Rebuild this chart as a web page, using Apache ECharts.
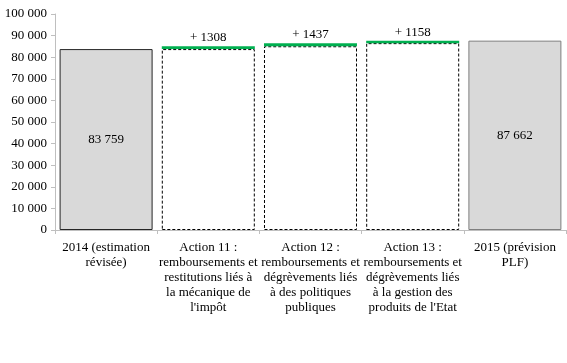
<!DOCTYPE html>
<html>
<head>
<meta charset="utf-8">
<script src="https://cdn.jsdelivr.net/npm/echarts@6/dist/echarts.min.js"></script>
<style>html,body{margin:0;padding:0;background:#fff}#c{width:567px;height:363px}</style>
</head>
<body>
<div id="c"></div>
<script>
var categories = [
  "2014 (estimation\nrévisée)",
  "Action 11 :\nremboursements et\nrestitutions liés à\nla mécanique de\nl'impôt",
  "Action 12 :\nremboursements et\ndégrèvements liés\nà des politiques\npubliques",
  "Action 13 :\nremboursements et\ndégrèvements liés\nà la gestion des\nproduits de l'Etat",
  "2015 (prévision\nPLF)"
];
var startValue = 83759;
var endValue = 87662;
var deltas = [1308, 1437, 1158];
var yTicks = [0, 10000, 20000, 30000, 40000, 50000, 60000, 70000, 80000, 90000, 100000];

var totals = [
  { value: startValue, itemStyle: { borderColor: '#262626' } },
  '-', '-', '-',
  { value: endValue, itemStyle: { borderColor: '#7f7f7f' } }
];
var bases = ['-'];
var inc = ['-'];
var run = startValue;
for (var i = 0; i < deltas.length; i++) { bases.push(run); inc.push(deltas[i]); run += deltas[i]; }
bases.push('-'); inc.push('-');

var FONT = 'Liberation Serif';
function fmt(v) { return String(v).replace(/\B(?=(\d{3})+(?!\d))/g, ' '); }

var chart = echarts.init(document.getElementById('c'));
chart.setOption({
  animation: false,
  grid: { left: 55, right: 1, top: 14, bottom: 133, containLabel: false },
  xAxis: {
    type: 'category',
    data: categories,
    axisLine: { lineStyle: { color: '#bfbfbf' } },
    axisTick: { show: true, length: 4, lineStyle: { color: '#bfbfbf' } },
    axisLabel: { color: '#000', fontFamily: FONT, fontSize: 13, lineHeight: 15, margin: 10, interval: 0 }
  },
  yAxis: {
    type: 'value',
    min: yTicks[0], max: yTicks[yTicks.length - 1], interval: yTicks[1] - yTicks[0],
    axisLine: { show: true, lineStyle: { color: '#bfbfbf' } },
    axisTick: { show: true, length: 4, lineStyle: { color: '#bfbfbf' } },
    splitLine: { show: false },
    axisLabel: { color: '#000', fontFamily: FONT, fontSize: 13, margin: 8, formatter: fmt }
  },
  series: [
    {
      type: 'bar', stack: 'w', data: totals, barWidth: '91%',
      itemStyle: { color: '#d9d9d9', borderColor: '#262626', borderWidth: 1 },
      label: { show: true, position: 'inside', color: '#000', fontFamily: FONT, fontSize: 13, formatter: function (p) { return fmt(p.value); } }
    },
    {
      type: 'bar', stack: 'w', data: bases, barWidth: '91%',
      itemStyle: { color: '#ffffff', borderColor: '#000', borderWidth: 1, borderType: [3, 2] }
    },
    {
      type: 'bar', stack: 'w', data: inc, barWidth: '91%',
      itemStyle: { color: '#00b050' },
      label: { show: true, position: 'top', distance: 2, color: '#000', fontFamily: FONT, fontSize: 13, formatter: function (p) { return '+ ' + p.value; } }
    }
  ]
});
</script>
</body>
</html>
